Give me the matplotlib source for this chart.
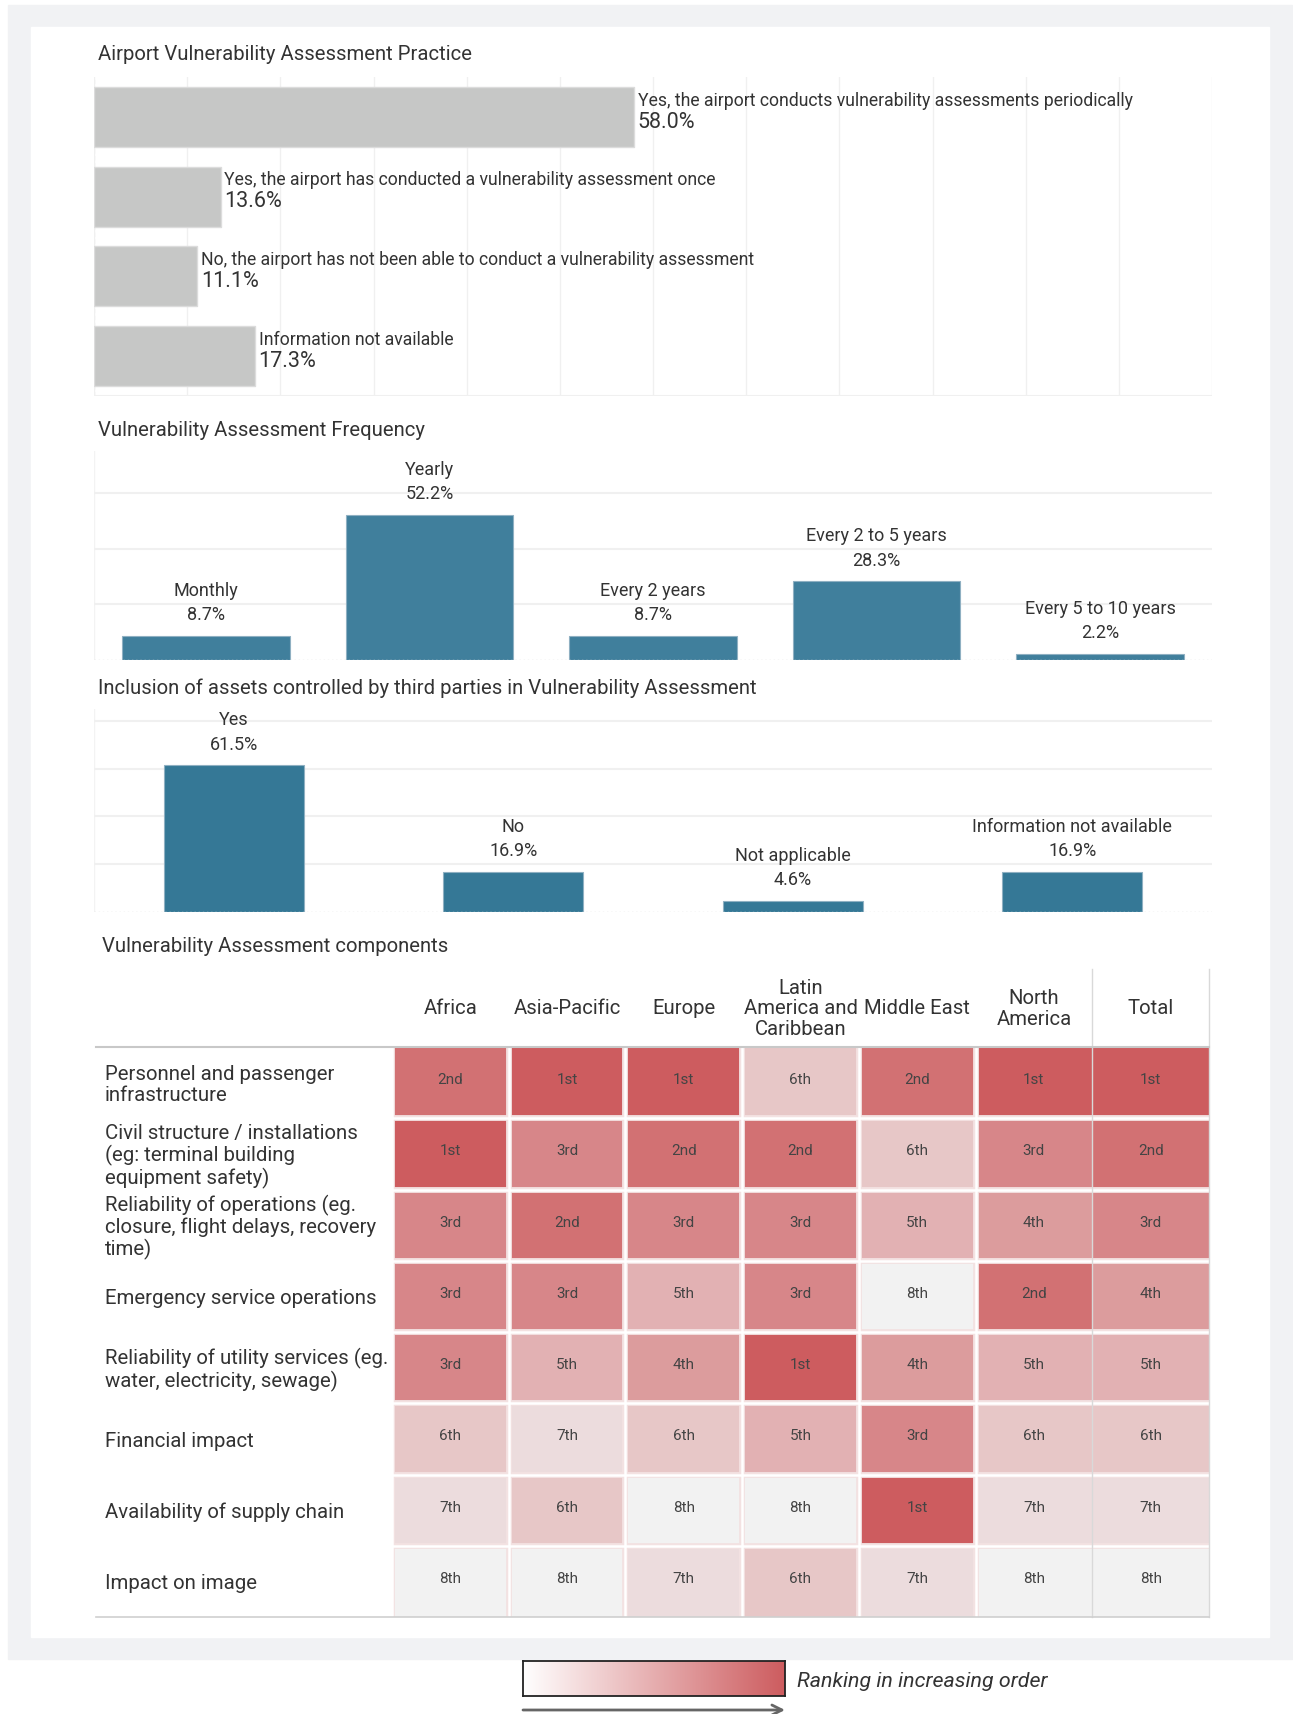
import matplotlib.pyplot as plt
import matplotlib.transforms as mtrans
import numpy as np
from matplotlib.colors import LinearSegmentedColormap, Normalize
from matplotlib.lines import Line2D
from matplotlib.patches import Rectangle

plt.rcParams['font.family'] = ['Roboto', 'DejaVu Sans']
plt.rcParams['text.color'] = '#333333'

W, H = 1293, 1715

# --- data ---
practice_labels = ['Yes, the airport conducts vulnerability assessments periodically',
                   'Yes, the airport has conducted a vulnerability assessment once',
                   'No, the airport has not been able to conduct a vulnerability assessment',
                   'Information not available']
practice_values = [58.0, 13.6, 11.1, 17.3]

freq_labels = ['Monthly', 'Yearly', 'Every 2 years', 'Every 2 to 5 years', 'Every 5 to 10 years']
freq_values = [8.7, 52.2, 8.7, 28.3, 2.2]

third_labels = ['Yes', 'No', 'Not applicable', 'Information not available']
third_values = [61.5, 16.9, 4.6, 16.9]

regions = ['Africa', 'Asia-Pacific', 'Europe', 'Latin\nAmerica and\nCaribbean',
           'Middle East', 'North\nAmerica', 'Total']
components = ['Personnel and passenger\ninfrastructure',
              'Civil structure / installations\n(eg: terminal building\nequipment safety)',
              'Reliability of operations (eg.\nclosure, flight delays, recovery\ntime)',
              'Emergency service operations',
              'Reliability of utility services (eg.\nwater, electricity, sewage)',
              'Financial impact',
              'Availability of supply chain',
              'Impact on image']
# rank of each component per region
africa = [2, 1, 3, 3, 3, 6, 7, 8]
asia_pacific = [1, 3, 2, 3, 5, 7, 6, 8]
europe = [1, 2, 3, 5, 4, 6, 8, 7]
latin_america = [6, 2, 3, 3, 1, 5, 8, 6]
middle_east = [2, 6, 5, 8, 4, 3, 1, 7]
north_america = [1, 3, 4, 2, 5, 6, 7, 8]
total = [1, 2, 3, 4, 5, 6, 7, 8]


def ordinal(n):
    return str(n) + {1: 'st', 2: 'nd', 3: 'rd'}.get(n, 'th')


fig = plt.figure(figsize=(W / 100, H / 100), dpi=100)


def ax_px(x0, y0, x1, y1):
    a = fig.add_axes([x0 / W, 1 - y1 / H, (x1 - x0) / W, (y1 - y0) / H])
    a.set_facecolor('none')
    for s in a.spines.values():
        s.set_visible(False)
    a.tick_params(length=0, labelbottom=False, labelleft=False)
    return a


def fig_line(x0, y0, x1, y1, **kw):
    fig.add_artist(Line2D([x0 / W, x1 / W], [1 - y0 / H, 1 - y1 / H],
                          transform=fig.transFigure, **kw))


# background panels
fig.patches.append(Rectangle((8 / W, 1 - 1660 / H), 1284 / W, 1654 / H,
                             transform=fig.transFigure, color='#f1f2f4', zorder=-10))
fig.patches.append(Rectangle((31 / W, 1 - 1638 / H), 1238 / W, 1610 / H,
                             transform=fig.transFigure, color='white', zorder=-9))

title_kw = dict(fontsize=14.6, va='center', ha='left', color='#333333')
fig.text(98 / W, 1 - 55 / H, 'Airport Vulnerability Assessment Practice', **title_kw)
fig.text(98 / W, 1 - 430 / H, 'Vulnerability Assessment Frequency', **title_kw)
fig.text(98 / W, 1 - 688 / H, 'Inclusion of assets controlled by third parties in Vulnerability Assessment', **title_kw)
fig.text(102 / W, 1 - 947 / H, 'Vulnerability Assessment components', **title_kw)

# --- section 1: horizontal bars ---
ax1 = ax_px(94, 78, 1212, 397)
ypos = np.arange(len(practice_values))
ax1.barh(ypos, practice_values, height=0.75, color='#c6c7c6', edgecolor='#dcdcdc', lw=1, zorder=2)
ax1.set_xlim(0, 120)
ax1.set_ylim(3.5, -0.5)
ax1.set_xticks(np.arange(0, 121, 10))
ax1.grid(axis='x', color='#f0f0f0', lw=1, zorder=0)
ax1.axvline(0, color='#e6e6e6', lw=1, ls=(0, (3, 2)), zorder=1)
ax1.axhline(3.5, color='#f0f0f0', lw=1.5)
for i, (lab, v) in enumerate(zip(practice_labels, practice_values)):
    ax1.annotate(lab, (v, i), xytext=(2.5, 12.5), textcoords='offset points',
                 va='center', ha='left', fontsize=12.7)
    ax1.annotate(f'{v:.1f}%', (v, i), xytext=(2.5, -3), textcoords='offset points',
                 va='center', ha='left', fontsize=15.5)


def column_chart(a, labels, values, width, color, ymax, ticks):
    x = np.arange(len(values))
    a.bar(x, values, width=width, color=color, edgecolor='#8fb0c2', lw=0.8, zorder=2)
    a.set_xlim(-0.5, len(values) - 0.5)
    a.set_ylim(0, ymax)
    a.set_yticks(ticks)
    a.grid(axis='y', color='#f0f0f0', lw=1.5, zorder=0)
    a.axhline(0, color='#d8d8d8', lw=1, ls=(0, (1, 2)), zorder=3)
    a.axvline(-0.5, color='#f3f3f3', lw=1, zorder=0)
    for xi, lab, v in zip(x, labels, values):
        a.annotate(lab, (xi, v), xytext=(0, 33), textcoords='offset points',
                   ha='center', va='center', fontsize=13)
        a.annotate(f'{v:.1f}%', (xi, v), xytext=(0, 15.5), textcoords='offset points',
                   ha='center', va='center', fontsize=13)


# --- section 2 ---
ax2 = ax_px(94, 452, 1212, 661)
column_chart(ax2, freq_labels, freq_values, 0.75, '#407f9c', 75, [20, 40, 60])

# --- section 3 ---
ax3 = ax_px(94, 710, 1212, 913)
column_chart(ax3, third_labels, third_values, 0.5, '#357896', 85, [20, 40, 60, 80])

# --- section 4: heatmap ---
grid = np.array([africa, asia_pacific, europe, latin_america, middle_east,
                 north_america, total]).T
ax4 = ax_px(392, 1048, 1209, 1618)
heat_cmap = LinearSegmentedColormap.from_list('rank', ['#cd5c5f', '#f2f2f2'])
ax4.imshow(grid, cmap=heat_cmap, norm=Normalize(1, 8), extent=(0, 7, 8, 0),
           aspect='auto', interpolation='nearest', zorder=1)
ax4.set_xlim(0, 7)
ax4.set_ylim(8, 0)
for xb in range(0, 6):
    ax4.plot([xb, xb], [0, 8], color='#f3e2e2', lw=4.2, zorder=2, solid_capstyle='butt')
    ax4.plot([xb, xb], [0, 8], color='white', lw=1.8, zorder=3, solid_capstyle='butt')
for yb in range(1, 8):
    ax4.plot([0, 7], [yb, yb], color='#f3e2e2', lw=4.2, zorder=2, solid_capstyle='butt')
    ax4.plot([0, 7], [yb, yb], color='white', lw=1.8, zorder=3, solid_capstyle='butt')
for xb in (6, 7):
    ax4.plot([xb, xb], [-1.1, 8], color='#d9d9d9', lw=1, zorder=4, clip_on=False)
for r in range(grid.shape[0]):
    for c in range(grid.shape[1]):
        ax4.text(c + 0.5, r + 0.45, ordinal(grid[r, c]), ha='center', va='center',
                 fontsize=11, color='#444444', zorder=5)
for c, reg in enumerate(regions):
    ax4.text(c + 0.5, -0.55, reg, ha='center', va='center', fontsize=14.6,
             linespacing=1.1, clip_on=False)
trans = mtrans.blended_transform_factory(fig.transFigure, ax4.transData)
for r, comp in enumerate(components):
    ax4.text(105 / W, r + 0.52, comp, transform=trans, ha='left', va='center',
             fontsize=14.7, linespacing=1.1)
fig_line(96, 1048, 1209, 1048, color='#c8c8c8', lw=1.5)
fig_line(96, 1618, 1209, 1618, color='#cfcfcf', lw=1.2)

# --- legend ---
ax5 = fig.add_axes([523 / W, 1 - 1697 / H, 262 / W, 35 / H])
leg_cmap = LinearSegmentedColormap.from_list('leg', ['#ffffff', '#cd5c5f'])
ax5.imshow(np.linspace(0, 1, 256)[None, :], cmap=leg_cmap, aspect='auto',
           extent=(0, 1, 0, 1))
ax5.set_xticks([])
ax5.set_yticks([])
for s in ax5.spines.values():
    s.set_color('#222222')
    s.set_linewidth(1.3)
ax5.annotate('', xy=(1, -0.4), xytext=(0, -0.4), xycoords='axes fraction',
             arrowprops=dict(arrowstyle='->', color='#666666', lw=2,
                             shrinkA=0, shrinkB=0, mutation_scale=18))
fig.text(797 / W, 1 - 1682 / H, 'Ranking in increasing order', style='italic',
         fontsize=15.4, va='center', ha='left')

fig.savefig('out.png', dpi=100)
